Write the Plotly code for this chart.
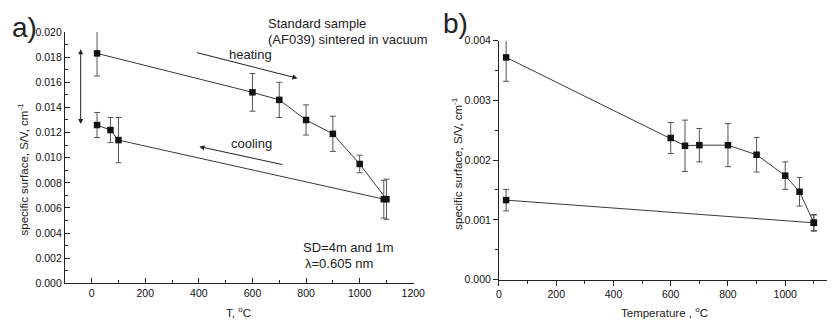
import plotly.graph_objects as go

W, H = 839, 326

# ---- data panel a ----
a_heat_T = [20, 600, 700, 800, 900, 1000, 1100]
a_heat_S = [0.0183, 0.0152, 0.0146, 0.0130, 0.0119, 0.0095, 0.0067]
a_heat_err = [0.0018, 0.0015, 0.0014, 0.0012, 0.0014, 0.0007, 0.0016]

a_cool_T = [1090, 100, 70, 20]
a_cool_S = [0.0067, 0.0114, 0.0122, 0.0126]
a_cool_err = [0.0015, 0.0018, 0.0010, 0.0010]

# ---- data panel b ----
b_up_T = [25, 600, 650, 700, 800, 900, 1000, 1050, 1100]
b_up_S = [0.00372, 0.00237, 0.00224, 0.00225, 0.00225, 0.00209, 0.00174, 0.00147, 0.00095]
b_up_err = [0.00040, 0.00026, 0.00043, 0.00028, 0.00036, 0.00029, 0.00023, 0.00024, 0.00014]

b_low_T = [25, 1100]
b_low_S = [0.00133, 0.00095]
b_low_err = [0.00018, 0.00013]

LINE = "#3a3a3a"
ERR = "#555555"
MK = "#111111"
FONT = "Liberation Sans, Arial, sans-serif"


def px2paper_x(px):
    return px / W


def px2paper_y(py):
    return 1 - py / H


def series(x, y, e, xa, ya):
    return go.Scatter(
        x=x, y=y, xaxis=xa, yaxis=ya, mode="lines+markers",
        line=dict(color=LINE, width=1),
        marker=dict(symbol="square", size=6.5, color=MK),
        error_y=dict(type="data", array=e, visible=True, color=ERR, thickness=1, width=3),
        showlegend=False, cliponaxis=False,
    )


fig = go.Figure()
fig.add_trace(series(a_heat_T, a_heat_S, a_heat_err, "x", "y"))
fig.add_trace(series(a_cool_T, a_cool_S, a_cool_err, "x", "y"))
fig.add_trace(series(b_up_T, b_up_S, b_up_err, "x2", "y2"))
fig.add_trace(series(b_low_T, b_low_S, b_low_err, "x2", "y2"))


def axis_style(side):
    return dict(
        showgrid=False, zeroline=False, showline=True, linecolor="#222", linewidth=1,
        ticks=side, ticklen=5, tickcolor="#222", tickwidth=1,
        tickfont=dict(family=FONT, size=10.5, color="#111"),
        minor=dict(ticks=side, ticklen=3, tickcolor="#222", tickwidth=1),
    )


fig.update_layout(
    width=W, height=H, autosize=False,
    margin=dict(l=0, r=0, t=0, b=0),
    paper_bgcolor="white", plot_bgcolor="white",
    font=dict(family=FONT, color="#222"),
    xaxis=dict(domain=[px2paper_x(63), px2paper_x(418)], range=[-100, 1201],
               dtick=200, tick0=0, anchor="y", **axis_style("inside")),
    yaxis=dict(domain=[px2paper_y(288), px2paper_y(27)], range=[0, 0.020],
               dtick=0.002, tickformat=".3f", anchor="x", **axis_style("inside")),
    xaxis2=dict(domain=[px2paper_x(505), 1.0], range=[0, 1146],
                dtick=200, tick0=0, anchor="y2", **axis_style("outside")),
    yaxis2=dict(domain=[px2paper_y(284), px2paper_y(36)], range=[0, 0.004],
                dtick=0.001, tickformat=".3f", anchor="x2", **axis_style("outside")),
)
fig.update_xaxes(minor_dtick=100)
fig.layout.yaxis.minor.dtick = 0.001
fig.layout.yaxis2.minor.dtick = 0.0005

anns = []
def text(px, py, t, size=13, xanchor="center", angle=0):
    anns.append(dict(x=px2paper_x(px), y=px2paper_y(py), xref="paper", yref="paper",
                     text=t, showarrow=False, xanchor=xanchor, yanchor="middle",
                     textangle=angle, font=dict(family=FONT, size=size, color="#222")))

# panel labels
text(7, 22, "a)", size=28, xanchor="left")
text(446, 18, "b)", size=28, xanchor="left")
# axis titles
text(20, 169, "specific surface, S/V, cm<sup>-1</sup>", size=11.5, angle=-90)
text(240, 318, "T, <sup>o</sup>C", size=11.5)
text(462, 163, "specific surface, S/V, cm<sup>-1</sup>", size=11.5, angle=-90)
text(674, 318, "Temperature , <sup>o</sup>C", size=11.5)
# annotations panel a
text(268, 18, "Standard sample", size=13, xanchor="left")
text(268, 35, "(AF039) sintered in vacuum", size=13, xanchor="left")
text(252, 50, "heating", size=13)
text(253, 143, "cooling", size=13)
text(303, 251, "SD=4m and 1m", size=13, xanchor="left")
text(305, 267, "λ=0.605 nm", size=13, xanchor="left")

# arrows (data coords of panel a)
arrows = [
    dict(x=768, y=0.01632, ax=387, ay=0.01839, arrowside="end"),
    dict(x=402, y=0.01088, ax=717, ay=0.00943, arrowside="end"),
    dict(x=-41, y=0.01862, ax=-41, ay=0.01257, arrowside="end+start"),
]
for a in arrows:
    anns.append(dict(x=a["x"], y=a["y"], ax=a["ax"], ay=a["ay"], xref="x", yref="y",
                     axref="x", ayref="y", text="", showarrow=True, arrowhead=2,
                     arrowsize=1, arrowwidth=1, arrowcolor="#222",
                     arrowside=a["arrowside"]))

fig.update_layout(annotations=anns)

fig.write_html("out.html", config={"displayModeBar": False},
               post_script="document.body.style.margin='0';document.body.style.overflow='hidden';")
